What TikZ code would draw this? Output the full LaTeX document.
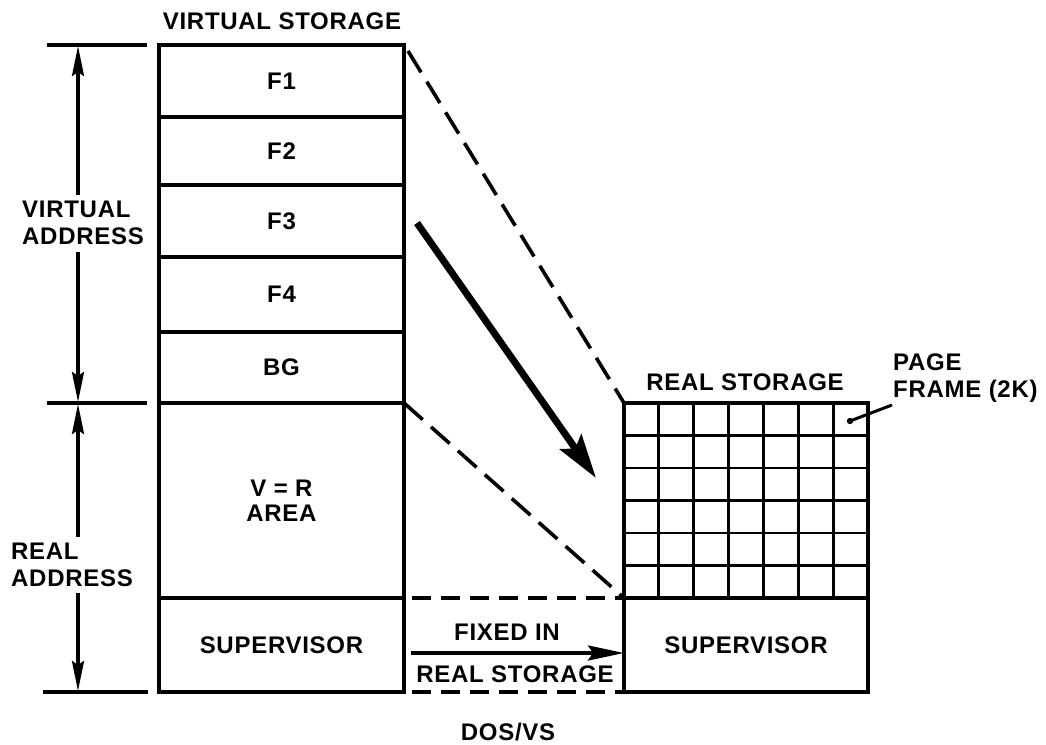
\documentclass[tikz,border=0pt]{standalone}
\usepackage{fontspec}
\setmainfont{Liberation Sans}[LetterSpace=3]
\usetikzlibrary{arrows.meta,calc}
\tikzset{
  lbl/.style={font=\fontsize{24}{26.5}\selectfont\bfseries, inner sep=0pt, align=center},
  cell/.style={draw, line width=3.6pt, anchor=north west, inner sep=0pt, outer sep=0pt,
     font=\fontsize{24}{26.5}\selectfont\bfseries, align=center},
  dashconn/.style={line width=3.6pt, dash pattern=on 19pt off 10pt},
  dashdiag/.style={line width=3.6pt, dash pattern=on 25pt off 11pt},
  tick/.style={line width=3.6pt},
  dimarrow/.style={line width=3.4pt, -{Stealth[length=30pt,width=12pt,inset=4pt]}},
  gridline/.style={line width=2.8pt},
}
\begin{document}
\begin{tikzpicture}[x=1pt,y=-1pt]
\useasboundingbox (0,0) rectangle (1046,744);
% left column
\node[cell, minimum width=245pt, minimum height=72pt] (f1) at (159,45) {F1};
\node[cell, minimum width=245pt, minimum height=68pt] (f2) at (159,117) {F2};
\node[cell, minimum width=245pt, minimum height=72pt] (f3) at (159,185) {F3};
\node[cell, minimum width=245pt, minimum height=75pt] (f4) at (159,257) {F4};
\node[cell, minimum width=245pt, minimum height=71pt] (bg) at (159,332) {BG};
\node[cell, minimum width=245pt, minimum height=195pt] (vr) at (159,403) {V = R\\[-1pt]AREA};
\node[cell, minimum width=245pt, minimum height=94pt] (sup) at (159,598) {SUPERVISOR};
\node[lbl, anchor=south] (vstitle) at (282,30) {VIRTUAL STORAGE};
% right column
\node[draw, line width=3.6pt, anchor=north west, inner sep=0pt, outer sep=0pt, minimum width=244pt, minimum height=195pt] (grid) at (624,403) {};
\node[cell, minimum width=244pt, minimum height=94pt] (sup2) at (624,598) {SUPERVISOR};
\node[lbl, anchor=south] (rstitle) at (745,391) {REAL STORAGE};
\foreach \i in {1,...,6} {
  \draw[gridline] ($(grid.north west)!\i/7!(grid.north east)$) -- ($(grid.south west)!\i/7!(grid.south east)$);
}
\foreach \j in {1,...,5} {
  \draw[gridline] ($(grid.north west)!\j/6!(grid.south west)$) -- ($(grid.north east)!\j/6!(grid.south east)$);
}
% page frame label
\coordinate (pfdot) at (850,421);
\fill (pfdot) circle (3.2pt);
\node[lbl, anchor=west, align=left] (pf) at (893,378) {PAGE\\FRAME (2K)};
\coordinate (pfend) at (892,405);
\draw[line width=3pt] (pfdot) -- (pfend);
% dashed connectors
\draw[dashdiag] (f1.north east) ++(4,6) -- (grid.north west);
\draw[dashdiag] (vr.north east) -- (grid.south west);
\draw[dashconn] (sup.north east) ++(8,0) -- (grid.south west);
\draw[dashconn] (sup.south east) ++(8,0) -- (sup2.south west);
% thick arrow
\coordinate (ta1) at (417,223);
\coordinate (ta2) at (596,478);
\draw[line width=7pt, -{Stealth[length=44pt,width=26pt,inset=8pt]}] (ta1) -- (ta2);
% fixed in arrow
\coordinate (fx1) at (411,653);
\draw[line width=3.6pt, -{Stealth[length=36pt,width=15pt,inset=5pt]}] (fx1) -- (sup2.west |- fx1);
\node[lbl] (fixedin) at (507,632) {FIXED IN};
\node[lbl] (realst) at (515,674) {REAL STORAGE};
% dimension ticks
\coordinate (t1a) at (47,45);  \coordinate (t1b) at (147,45);
\coordinate (t2a) at (47,403); \coordinate (t2b) at (147,403);
\coordinate (t3a) at (43,692); \coordinate (t3b) at (148,692);
\draw[tick] (t1a) -- (t1b);
\draw[tick] (t2a) -- (t2b);
\draw[tick] (t3a) -- (t3b);
\node[lbl, anchor=west, align=left] (va) at (22,223) {VIRTUAL\\ADDRESS};
\node[lbl, anchor=west, align=left] (ra) at (11,565) {REAL\\ADDRESS};
\draw[dimarrow] (78,195) -- (78,46);
\draw[dimarrow] (78,252) -- (78,402);
\draw[dimarrow] (78,537) -- (78,404);
\draw[dimarrow] (78,593) -- (78,691);
% caption
\node[lbl] (cap) at (508,732) {DOS/VS};
\end{tikzpicture}
\end{document}
